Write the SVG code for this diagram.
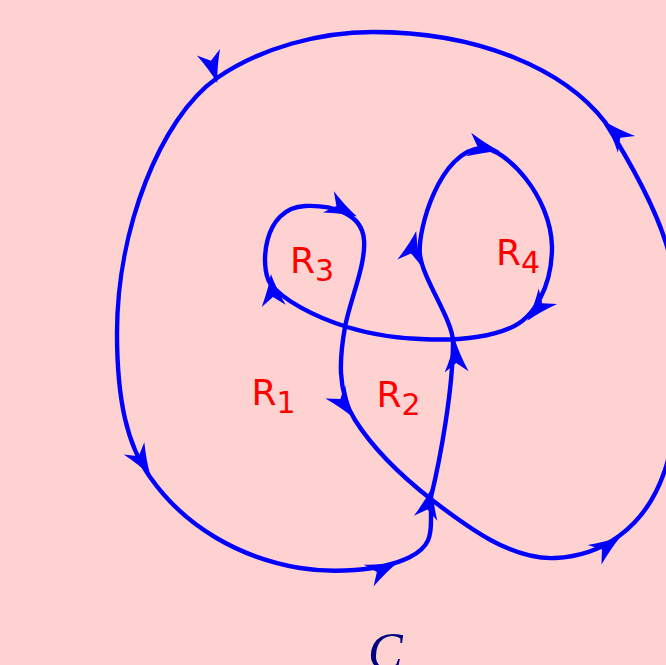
<svg xmlns="http://www.w3.org/2000/svg" xmlns:xlink="http://www.w3.org/1999/xlink" width="666" height="665" viewBox="0 0 666 665">
<style>
.curve{fill:none;stroke:#0000FF;stroke-width:4.4;stroke-linejoin:round;stroke-linecap:round}
.ah{fill:#0000FF;stroke:none}
.lbl{font-family:"DejaVu Sans","Noto Sans",sans-serif;font-size:36px;fill:#FF0000}
.sub{font-size:30px}
.cap{font-family:"Liberation Serif","DejaVu Serif",serif;font-style:italic;font-size:52px;fill:#000080}
</style>
<defs>
<path id="arrow" class="ah" d="M1,0 Q-14,-4 -31,-12 L-22,0 L-31,12 Q-14,4 1,0 Z"/>
</defs>
<rect x="0" y="0" width="666" height="665" fill="#FFD2D2"/>
<g id="connectors">
<path class="curve" d="M431,497 C440,460 453,390 453,342 C453,320 423,280 420,255 C417,230 440,150 482,148 C505,148 551,195 552,247 C552,285 535,318 510,328 C470,345 395,342 347,327 C315,317 282,300 270,283 C260,268 262,208 305,206 C330,205 362,212 364,240 C366,265 350,300 345,327 C340,355 336,390 355,420 C374,450 400,475 432,500 C465,525 510,560 555,558 C600,556 645,530 665,470 C680,425 690,320 666,243 C655,208 632,165 605,122 C565,70 480,32 373,32 C320,32 260,48 217,78 C160,118 117,230 117,333 C117,400 127,445 150,477 C185,527 240,558 300,568 C330,573 380,572 410,557 C430,547 431,535 431,520 Z"/>
<use xlink:href="#arrow" transform="translate(217,82) rotate(74)"/>
<use xlink:href="#arrow" transform="translate(605,122) rotate(-134)"/>
<use xlink:href="#arrow" transform="translate(356,216) rotate(27)"/>
<use xlink:href="#arrow" transform="translate(499,151) rotate(12)"/>
<use xlink:href="#arrow" transform="translate(416,232) rotate(-77)"/>
<use xlink:href="#arrow" transform="translate(528,320) rotate(130)"/>
<use xlink:href="#arrow" transform="translate(271,275) rotate(-95)"/>
<use xlink:href="#arrow" transform="translate(455,341) rotate(-93)"/>
<use xlink:href="#arrow" transform="translate(353,417) rotate(55)"/>
<use xlink:href="#arrow" transform="translate(150,475) rotate(59)"/>
<use xlink:href="#arrow" transform="translate(397,563) rotate(-24)"/>
<use xlink:href="#arrow" transform="translate(432,488) rotate(-78)"/>
<use xlink:href="#arrow" transform="translate(620,537) rotate(-35)"/>
</g>
<g id="R1"><text class="lbl" x="251.5" y="405">R<tspan class="sub" dy="8">1</tspan></text></g>
<g id="R2"><text class="lbl" x="376.5" y="406.5">R<tspan class="sub" dy="8">2</tspan></text></g>
<g id="R3"><text class="lbl" x="290" y="273">R<tspan class="sub" dy="8">3</tspan></text></g>
<g id="R4"><text class="lbl" x="496" y="265">R<tspan class="sub" dy="8">4</tspan></text></g>
<g id="C"><text class="cap" x="368" y="669">C</text></g>
</svg>
